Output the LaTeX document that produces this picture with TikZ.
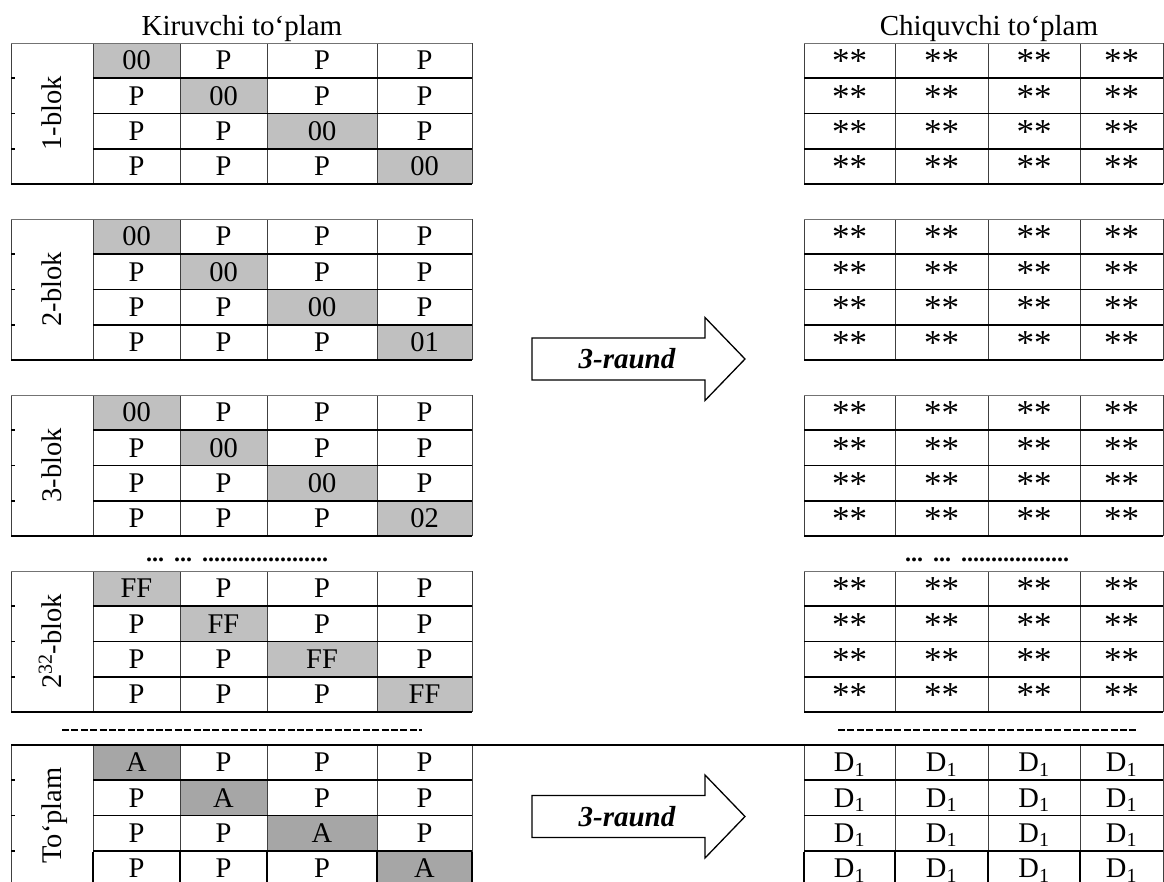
\documentclass[tikz,border=0pt]{standalone}
\usepackage{fontspec}
\setmainfont{Liberation Serif}
\definecolor{diaggray}{HTML}{C0C0C0}
\definecolor{keygray}{HTML}{A6A6A6}
\newcommand{\cellfont}{\fontsize{28.5}{30}\selectfont}
\newcommand{\headfont}{\fontsize{29}{31}\selectfont}

\begin{document}
\begin{tikzpicture}[
    x=1pt, y=-1pt,
    cell/.style={font=\cellfont, anchor=base, inner sep=0pt},
    star/.style={font=\fontsize{35}{36}\selectfont, anchor=base, inner sep=0pt, yshift=-3pt},
    head/.style={font=\headfont, anchor=base, inner sep=0pt},
    blok/.style={font=\cellfont, rotate=90, anchor=base, inner sep=0pt},
    raund/.style={font=\headfont\bfseries\itshape, inner sep=0pt},
    dots/.style={font=\fontsize{24}{26}\selectfont\bfseries, anchor=base west, inner sep=0pt},
    rowline/.style={line width=1.8pt},
    colline/.style={line width=0.9pt, black!75},
    topline/.style={line width=0.9pt, black!55},
    botline/.style={line width=2pt},
    blockarrow/.style={line width=1.3pt, line join=miter, fill=white},
    gapline/.style={line width=1.4pt, dash pattern=on 7pt off 2.4pt},
]
    \useasboundingbox (0,0) rectangle (1164,881);

    % Titles
    \node[head] (kir) at (242,35) {Kiruvchi to‘plam};
    \node[head] (chiq) at (989,35) {Chiquvchi to‘plam};

    % Blocks: top / label / diagonal / fill / output style / output entry
    \foreach \ytop/\lab/\dA/\dB/\dC/\dD/\tint/\outst/\out [count=\n] in {
        43/1-blok/00/00/00/00/diaggray/star/**,
        219/2-blok/00/00/00/01/diaggray/star/**,
        395/3-blok/00/00/00/02/diaggray/star/**,
        571/2\textsuperscript{32}-blok/FF/FF/FF/FF/diaggray/star/**,
        745/To‘plam/A/A/A/A/keygray/cell/D\textsubscript{1}}
    {
        % diagonal cells
        \foreach \cl/\xa/\xb in {1/93/180,2/180/267,3/267/377,4/377/472}
            \fill[\tint] (\xa,{\ytop+35.25*(\cl-1)}) rectangle (\xb,{\ytop+35.25*\cl});

        % entries
        \foreach \rw/\dg in {1/\dA,2/\dB,3/\dC,4/\dD} {
            \foreach \cl/\xm in {1/136.5,2/223.5,3/322,4/424.5} {
                \ifnum\rw=\cl\relax
                    \node[cell] (k\n-\rw-\cl) at (\xm,{\ytop+35.25*\rw-8.5}) {\dg};
                \else
                    \node[cell] (k\n-\rw-\cl) at (\xm,{\ytop+35.25*\rw-8.5}) {P};
                \fi
            }
            \foreach \cl/\xm in {1/849.5,2/941.5,3/1034,4/1121.5}
                \node[\outst] (s\n-\rw-\cl) at (\xm,{\ytop+35.25*\rw-8.5}) {\out};
        }

        % label column
        \node[blok] (lab\n) at (61,{\ytop+70.5}) {\lab};

        % grid
        \foreach \xv in {11,93,180,267,377,472,804,895,988,1080,1163}
            \draw[colline] (\xv,\ytop) -- (\xv,{\ytop+141});
        \draw[topline] (11,\ytop) -- (472,\ytop);
        \draw[topline] (804,\ytop) -- (1163,\ytop);
        \foreach \rw in {1,2,3} {
            \draw[rowline] (93,{\ytop+35.25*\rw}) -- (472,{\ytop+35.25*\rw});
            \draw[rowline] (11,{\ytop+35.25*\rw}) -- (15,{\ytop+35.25*\rw});
            \draw[rowline] (804,{\ytop+35.25*\rw}) -- (1163,{\ytop+35.25*\rw});
        }
        \draw[botline] (11,{\ytop+141}) -- (472,{\ytop+141});
        \draw[botline] (804,{\ytop+141}) -- (1163,{\ytop+141});
    }

    % last block sits in one wide row
    \draw[botline] (11,745) -- (1164,745);
    \foreach \xv in {93,180,267,377,472,804,895,988,1080}
        \draw[line width=1.6pt] (\xv,851.75) -- (\xv,886);

    % gaps between blocks
    \node[dots] (gapL) at (146,561.5) {...\hspace{10pt}...\hspace{10pt}.....................};
    \node[dots] (gapR) at (905,561.5) {...\hspace{10pt}...\hspace{10pt}..................};
    \draw[gapline] (62,730) -- (422,730);
    \draw[gapline] (838,730) -- (1138,730);

    % 3-raund arrows
    \foreach \ym/\nm in {359/raundA,816.5/raundB} {
        \draw[blockarrow] (532,{\ym-21}) -- (705,{\ym-21}) -- (705,{\ym-41.5}) -- (745,\ym)
            -- (705,{\ym+41.5}) -- (705,{\ym+21}) -- (532,{\ym+21}) -- cycle;
        \node[raund] (\nm) at (627,\ym) {3-raund};
    }
\end{tikzpicture}
\end{document}
